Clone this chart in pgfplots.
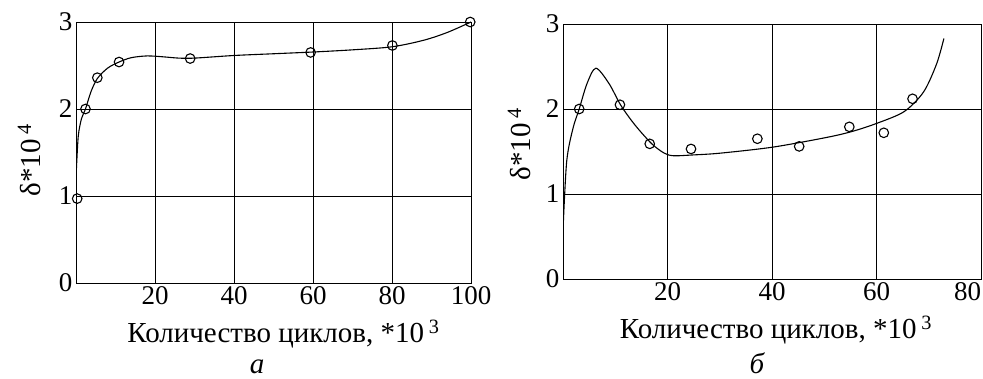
\documentclass[border=0pt]{standalone}
\usepackage{pgfplots}
\pgfplotsset{compat=1.18}
\usepackage{fontspec}
\setmainfont{Liberation Serif}
\begin{document}
\begin{tikzpicture}
\path[use as bounding box] (0pt,0pt) rectangle (983pt,378pt);
\pgfplotsset{
  myax/.style={
    scale only axis, anchor=south west,
    xmin=0, ymin=0, ymax=3,
    ytick={0,1,2,3},
    grid=major, major grid style={black, line width=0.8pt},
    axis line style={black, line width=0.9pt},
    major tick length=0pt,
    tick label style={font=\fontsize{27}{27}\selectfont},
    /pgf/number format/assume math mode=true,
    label style={font=\fontsize{29}{29}\selectfont},
    xlabel={Количество циклов, *10\,\textsuperscript{3}},
    ylabel={δ*10\,\textsuperscript{4}},
  },
  curve/.style={black, line width=1.1pt, smooth, no marks},
  pts/.style={black, only marks, mark=o, mark size=4.8pt, mark options={line width=1.1pt}},
}
\begin{axis}[myax, at={(76pt,95pt)}, width=395pt, height=261pt,
  xmax=100, xtick={20,40,60,80,100},
  xlabel style={yshift=-8pt, xshift=10pt},
  ylabel style={at={(axis description cs:-0.119,0.47)}, anchor=center}]
\addplot[curve] coordinates {
(0,1.2) (0.2,1.4) (0.6,1.7) (1.4,1.89) (2.4,2.0) (3.8,2.2) (5.4,2.35) (8,2.47)
(10.9,2.54) (14,2.59) (18,2.61) (22,2.60) (26,2.585) (30,2.585) (40,2.615)
(50,2.635) (60,2.655) (70,2.68) (80,2.715) (88,2.79) (94,2.88) (100,3.0)};
\addplot[pts] coordinates {
(0.3,0.97) (2.4,2.0) (5.4,2.36) (10.9,2.54) (28.9,2.58) (59.4,2.65) (80.1,2.73) (99.8,3.0)};
\end{axis}
\begin{axis}[myax, at={(563pt,99pt)}, width=418pt, height=255pt,
  xmax=80, xtick={20,40,60,80}, xticklabels={20,40,60,\llap{80}},
  xlabel style={yshift=-8pt, xshift=4pt},
  ylabel style={at={(axis description cs:-0.105,0.53)}, anchor=center}]
\addplot[curve] coordinates {
(0,0.57) (0.7,1.38) (1.9,1.77) (3.1,2.0) (4.6,2.3) (6.3,2.48) (8.8,2.3) (11.1,2.04)
(13.8,1.81) (17,1.59) (19.4,1.48) (21.2,1.45) (25,1.46) (30,1.48) (40,1.55)
(50,1.66) (55,1.73) (60,1.83) (65.3,1.97) (69,2.2) (71.5,2.53) (72.9,2.83)};
\addplot[pts] coordinates {
(3.1,2.0) (10.9,2.05) (16.6,1.59) (24.5,1.53) (37.2,1.65) (45.2,1.56) (54.8,1.79) (61.4,1.72) (66.9,2.12)};
\end{axis}
\node[anchor=base, font=\itshape\fontsize{29}{29}\selectfont] at (257pt,5pt) {а};
\node[anchor=base, font=\itshape\fontsize{29}{29}\selectfont] at (757pt,5pt) {б};
\end{tikzpicture}
\end{document}
